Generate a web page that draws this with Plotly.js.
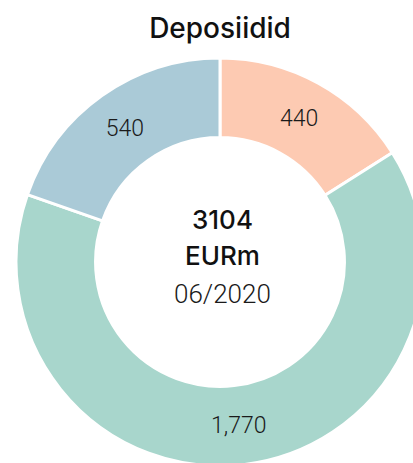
<!DOCTYPE html>
<html>
<head>
<meta charset="utf-8">
<script src="https://cdn.plot.ly/plotly-3.0.1.min.js"></script>
<style>
html, body { margin: 0; padding: 0; overflow: hidden; background: #fff; }
#chart { width: 440px; height: 480px; }
</style>
</head>
<body>
<div id="chart"></div>
<script>
const categories = ["A", "B", "C"];
const values = [440, 1770, 540];
const colors = ["#FDCAB2", "#A8D6CC", "#AACAD7"];
const chartTitle = "Deposiidid";
const centerTotal = "3104";
const centerUnit = "EURm";
const centerDate = "06/2020";

const W = 440, H = 480;
const cx = 222;

const trace = {
  type: "pie",
  labels: categories,
  values: values,
  sort: false,
  direction: "clockwise",
  rotation: 0,
  hole: 0.61,
  marker: { colors: colors, line: { color: "#ffffff", width: 3 } },
  texttemplate: "%{value:,}",
  textposition: "inside",
  insidetextorientation: "horizontal",
  textfont: { family: "Roboto, 'Liberation Sans', sans-serif", size: 23, color: "#1a1a1a", weight: 300 },
  domain: { x: [0, 1], y: [(H - 466) / H, (H - 58) / H] },
  hoverinfo: "none",
  showlegend: false
};

const layout = {
  width: W,
  height: H,
  margin: { l: 0, r: 0, t: 0, b: 0 },
  paper_bgcolor: "#ffffff",
  showlegend: false,
  title: {
    text: chartTitle,
    font: { family: "Inter, 'Liberation Sans', Arial, sans-serif", size: 28, color: "#111111", weight: 500 },
    x: 220 / W, xanchor: "center",
    y: 1 - 28 / H, yanchor: "middle"
  },
  annotations: [
    { text: centerTotal, x: cx / W, y: 1 - 220 / H, xref: "paper", yref: "paper", showarrow: false,
      xanchor: "center", yanchor: "middle", font: { family: "Inter, 'Liberation Sans', Arial, sans-serif", size: 26, color: "#111111", weight: 500 } },
    { text: centerUnit, x: cx / W, y: 1 - 255 / H, xref: "paper", yref: "paper", showarrow: false,
      xanchor: "center", yanchor: "middle", font: { family: "Inter, 'Liberation Sans', Arial, sans-serif", size: 26, color: "#111111", weight: 500 } },
    { text: centerDate, x: cx / W, y: 1 - 294 / H, xref: "paper", yref: "paper", showarrow: false,
      xanchor: "center", yanchor: "middle", font: { family: "Roboto, 'Liberation Sans', sans-serif", size: 26, color: "#1a1a1a", weight: 300 } }
  ]
};

Plotly.newPlot("chart", [trace], layout, { displayModeBar: false, staticPlot: true });
</script>
</body>
</html>
